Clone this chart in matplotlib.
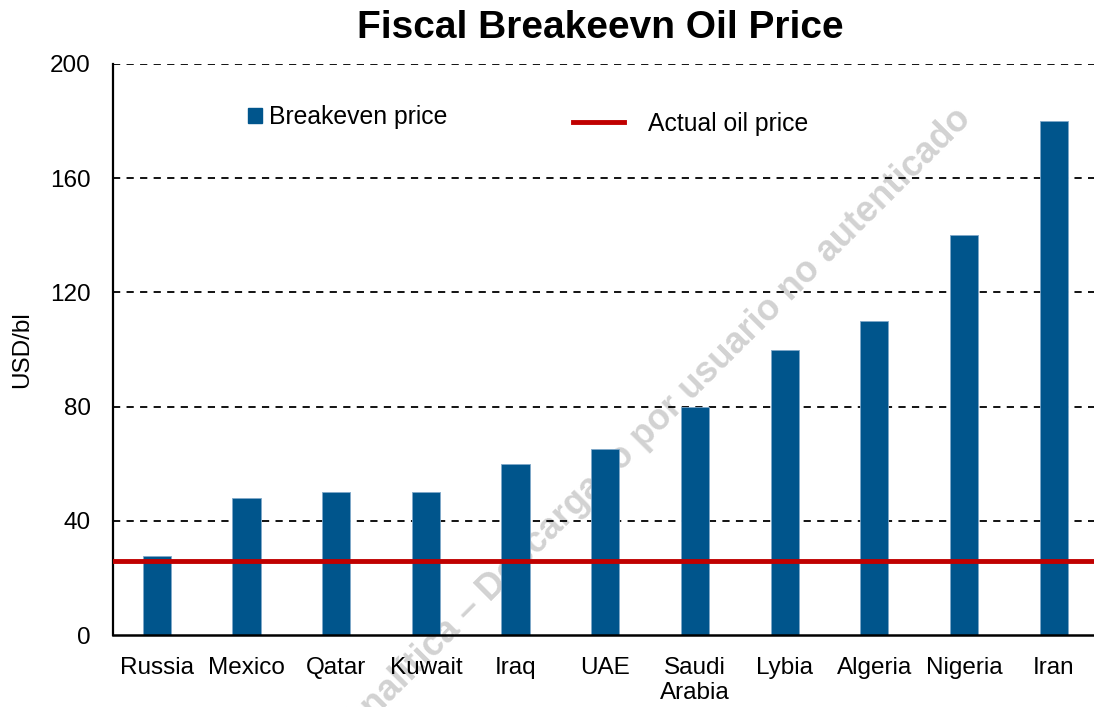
import matplotlib
matplotlib.use("Agg")
import matplotlib.pyplot as plt
from matplotlib.lines import Line2D
from matplotlib.patches import Patch

# data
countries = ["Russia", "Mexico", "Qatar", "Kuwait", "Iraq", "UAE",
             "Saudi\nArabia", "Lybia", "Algeria", "Nigeria", "Iran"]
breakeven = [27.5, 48, 50, 50, 60, 65, 80, 100, 110, 140, 180]
actual_price = 26
y_ticks = [0, 40, 80, 120, 160, 200]

bar_color = "#00558C"
red = "#C00000"

plt.rcParams["font.family"] = ["Liberation Sans", "DejaVu Sans"]

fig = plt.figure(figsize=(10.94, 7.07), dpi=100)

# watermark, behind the plot (runs off the bottom edge as in the source)
fig.text(966 / 1094, 1 - 114 / 707,
         "Analítica – Descargado por usuario no autenticado",
         rotation=45, rotation_mode="anchor", ha="right", va="center",
         fontsize=26, fontweight="bold", color="#d2d2d2", zorder=-5)

ax = fig.add_axes([113 / 1094, 1 - 635 / 707, 1 - 113 / 1094, (635 - 64) / 707])
ax.patch.set_alpha(0)

x = list(range(len(countries)))
ax.bar(x, breakeven, width=0.315, color=bar_color, edgecolor="#7fa8c9",
       linewidth=0.6, zorder=2)
ax.axhline(actual_price, color=red, lw=3.5, zorder=3)

ax.set_xlim(-0.49, 10.45)
ax.set_ylim(0, 200)
ax.set_yticks(y_ticks)
ax.set_xticks(x)
ax.set_xticklabels(countries, fontsize=17.5, linespacing=1.15)
ax.tick_params(axis="x", length=0, pad=16)
ax.tick_params(axis="y", length=0, pad=16, labelsize=17.5)
for t in y_ticks[1:]:
    ax.axhline(t, color="black", lw=1.3, ls=(0, (4, 3.5)), zorder=1)

for side in ["top", "right"]:
    ax.spines[side].set_visible(False)
ax.spines["left"].set_linewidth(1.6)
ax.spines["bottom"].set_linewidth(1.8)

ax.set_ylabel("USD/bl", fontsize=17.5, labelpad=12)
fig.text(600 / 1094, 1 - 38 / 707, "Fiscal Breakeevn Oil Price", fontsize=28,
         fontweight="bold", ha="center", va="baseline")

leg1 = ax.legend(handles=[Patch(color=bar_color, label="Breakeven price")],
                 loc="center left", bbox_to_anchor=((248 - 113) / 981, (635 - 117) / 571),
                 frameon=False, fontsize=17.8, borderpad=0, handlelength=0.55,
                 handleheight=0.55, handletextpad=0.28, borderaxespad=0)
ax.add_artist(leg1)
ax.legend(handles=[Line2D([], [], color=red, lw=3.5, label="Actual oil price")],
          loc="center left", bbox_to_anchor=((573 - 113) / 981, (635 - 124) / 571),
          frameon=False, fontsize=17.8, borderpad=0, handlelength=2.05,
          handletextpad=1.0, borderaxespad=0)

fig.savefig("out.png", dpi=100)
